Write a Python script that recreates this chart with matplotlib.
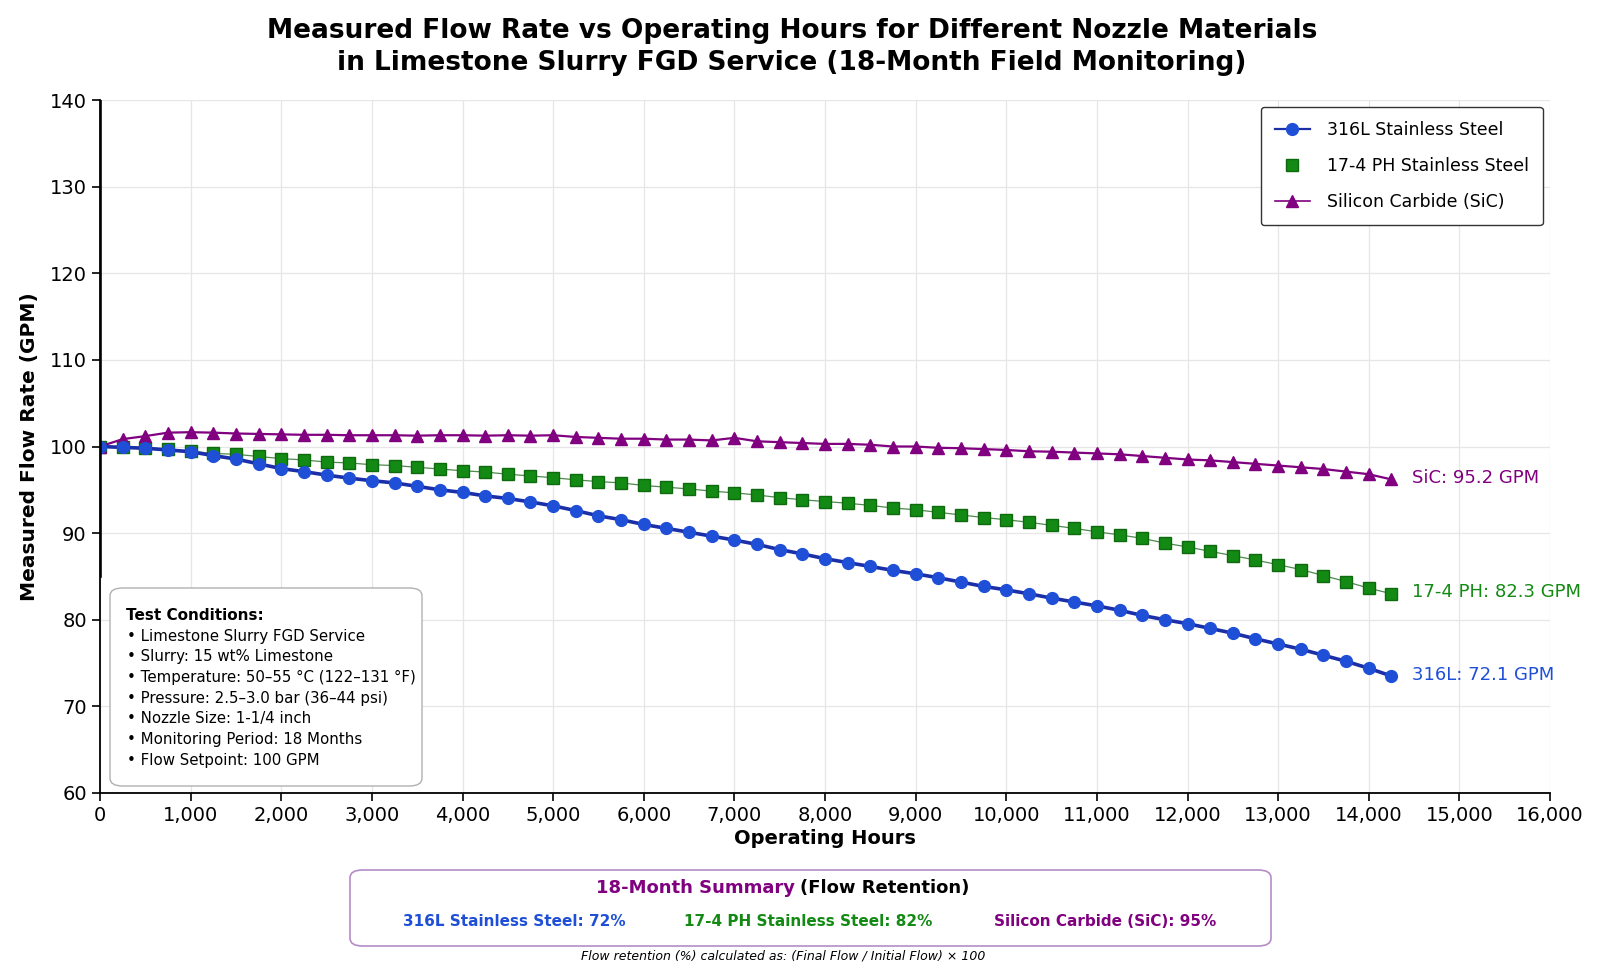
import numpy as np
import matplotlib.pyplot as plt
from matplotlib.lines import Line2D
from matplotlib.patches import FancyBboxPatch

plt.rcParams['font.family'] = ['DejaVu Sans']

# operating hours, one reading every 250 h
hours = np.arange(0, 14251, 250)

flow_316l = [100.0, 99.9, 99.8, 99.6, 99.4, 98.95, 98.55, 98.0, 97.45, 97.1,
             96.7, 96.35, 96.05, 95.8, 95.4, 95.0, 94.7, 94.3, 94.0, 93.6,
             93.15, 92.6, 92.0, 91.55, 91.0, 90.55, 90.1, 89.65, 89.2, 88.7,
             88.1, 87.6, 87.05, 86.6, 86.15, 85.7, 85.3, 84.85, 84.35, 83.85,
             83.45, 83.0, 82.5, 82.05, 81.6, 81.1, 80.5, 80.0, 79.55, 79.0,
             78.45, 77.8, 77.2, 76.6, 75.9, 75.2, 74.4, 73.5]

flow_174ph = [100.0, 99.9, 99.85, 99.7, 99.45, 99.2, 99.1, 98.85, 98.6, 98.45,
              98.2, 98.1, 97.9, 97.8, 97.6, 97.4, 97.2, 97.05, 96.8, 96.6,
              96.4, 96.15, 95.95, 95.8, 95.5, 95.3, 95.1, 94.85, 94.65, 94.4,
              94.1, 93.85, 93.65, 93.45, 93.2, 92.9, 92.7, 92.4, 92.1, 91.8,
              91.55, 91.25, 90.9, 90.55, 90.15, 89.8, 89.4, 88.85, 88.4, 87.9,
              87.4, 86.9, 86.35, 85.8, 85.1, 84.4, 83.65, 83.0]

flow_sic = [100.0, 100.85, 101.2, 101.6, 101.65, 101.6, 101.5, 101.45, 101.4, 101.35,
            101.35, 101.3, 101.3, 101.3, 101.25, 101.3, 101.3, 101.25, 101.3, 101.25,
            101.3, 101.1, 101.0, 100.9, 100.9, 100.8, 100.8, 100.7, 101.0, 100.6,
            100.5, 100.4, 100.3, 100.3, 100.2, 100.0, 100.0, 99.85, 99.8, 99.7,
            99.6, 99.45, 99.4, 99.3, 99.2, 99.1, 98.9, 98.7, 98.5, 98.4,
            98.2, 98.0, 97.8, 97.6, 97.4, 97.1, 96.8, 96.2]

names = ['316L Stainless Steel', '17-4 PH Stainless Steel', 'Silicon Carbide (SiC)']
end_labels = ['316L: 72.1 GPM', '17-4 PH: 82.3 GPM', 'SiC: 95.2 GPM']
retention = [72, 82, 95]

c_blue = '#1f4fd6'
c_green = '#138a13'
c_purple = '#800080'

conditions = ['Limestone Slurry FGD Service',
              'Slurry: 15 wt% Limestone',
              'Temperature: 50–55 °C (122–131 °F)',
              'Pressure: 2.5–3.0 bar (36–44 psi)',
              'Nozzle Size: 1-1/4 inch',
              'Monitoring Period: 18 Months',
              'Flow Setpoint: 100 GPM']

W, H = 1598, 964
fig = plt.figure(figsize=(W / 100, H / 100), dpi=100)
ax = fig.add_axes([100 / W, 1 - 793 / H, 1450 / W, 693 / H])

ax.plot(hours, flow_174ph, color='#4f8a4f', lw=0.9, marker='s', ms=8,
        mfc=c_green, mec='#0f6a0f', zorder=3)
ax.plot(hours, flow_sic, color=c_purple, lw=1.6, marker='^', ms=9,
        mfc=c_purple, mec=c_purple, zorder=4)
ax.plot(hours, flow_316l, color='#1a2fa8', lw=2.6, marker='o', ms=8.5,
        mfc=c_blue, mec=c_blue, zorder=5)

ax.set_xlim(0, 16000)
ax.set_ylim(60, 140)
ax.set_xticks(np.arange(0, 16001, 1000))
ax.set_yticks(np.arange(60, 141, 10))
ax.xaxis.set_major_formatter(plt.FuncFormatter(lambda v, p: f'{int(v):,}'))
ax.tick_params(labelsize=14, length=6, width=1.2, color='black')
ax.grid(True, color='#e6e6e6', lw=0.9)
ax.set_axisbelow(True)
for s in ['top', 'right']:
    ax.spines[s].set_visible(False)
for s in ['left', 'bottom']:
    ax.spines[s].set_linewidth(1.3)
ax.axvline(0, ymin=(85 - 60) / 80, ymax=1, color='black', lw=2.6, zorder=6)

ax.set_xlabel('Operating Hours', fontsize=14, fontweight='bold', labelpad=3)
ax.set_ylabel('Measured Flow Rate (GPM)', fontsize=14.5, fontweight='bold', labelpad=8)

# end-of-run labels
for ys, lab, col in zip([flow_316l, flow_174ph, flow_sic], end_labels,
                        [c_blue, c_green, c_purple]):
    ax.annotate(lab, xy=(hours[-1], ys[-1]), xytext=(15, 1),
                textcoords='offset points', ha='left', va='center',
                fontsize=13, color=col)

handles = [Line2D([], [], color='#1a2fa8', lw=1.6, marker='o', ms=8.5,
                  mfc=c_blue, mec=c_blue),
           Line2D([], [], ls='none', marker='s', ms=8, mfc=c_green, mec='#0f6a0f'),
           Line2D([], [], color=c_purple, lw=1.2, marker='^', ms=9,
                  mfc=c_purple, mec=c_purple)]
leg = ax.legend(handles, names, loc='upper right', bbox_to_anchor=(0.995, 0.99),
                borderaxespad=0, fontsize=12.5, handlelength=2.0, labelspacing=1.05,
                borderpad=0.8, handletextpad=1.0, frameon=True, fancybox=True,
                framealpha=1)
leg.get_frame().set_edgecolor('#333333')
leg.get_frame().set_linewidth(1.0)

# title
fig.text(792 / W, 1 - 31 / H, 'Measured Flow Rate vs Operating Hours for Different Nozzle Materials',
         ha='center', va='center', fontsize=19, fontweight='bold')
fig.text(792 / W, 1 - 63 / H, 'in Limestone Slurry FGD Service (18-Month Field Monitoring)',
         ha='center', va='center', fontsize=19, fontweight='bold')

# test conditions box
box = FancyBboxPatch((110 / W, 1 - 786 / H), 312 / W, 198 / H,
                     boxstyle='round,pad=0,rounding_size=0.008',
                     transform=fig.transFigure, fc='white', ec='#b0b0b0', lw=1.0,
                     zorder=10)
fig.add_artist(box)
fig.text(126 / W, 1 - 615 / H, 'Test Conditions:', fontsize=11, fontweight='bold',
         va='center', zorder=11)
for i, line in enumerate(conditions):
    fig.text(127 / W, 1 - (636 + 20.7 * i) / H, '• ' + line, fontsize=10.8,
             va='center', zorder=11)

# summary box
sbox = FancyBboxPatch((350 / W, 1 - 946 / H), 921 / W, 76 / H,
                      boxstyle='round,pad=0,rounding_size=0.008',
                      transform=fig.transFigure, fc='white', ec='#b58cc8', lw=1.2)
fig.add_artist(sbox)
fig.text(795 / W, 1 - 888 / H, '18-Month Summary', ha='right', va='center',
         fontsize=13, fontweight='bold', color=c_purple)
fig.text(800 / W, 1 - 888 / H, '(Flow Retention)', ha='left', va='center',
         fontsize=13, fontweight='bold', color='black')
for xc, nm, r, col in zip([514, 808, 1105], names, retention, [c_blue, c_green, c_purple]):
    fig.text(xc / W, 1 - 922 / H, f'{nm}: {r}%', ha='center', va='center',
             fontsize=11, fontweight='bold', color=col)

fig.text(783 / W, 1 - 956 / H, 'Flow retention (%) calculated as: (Final Flow / Initial Flow) × 100',
         ha='center', va='center', fontsize=9, style='italic')

fig.savefig('out.png', dpi=100)
